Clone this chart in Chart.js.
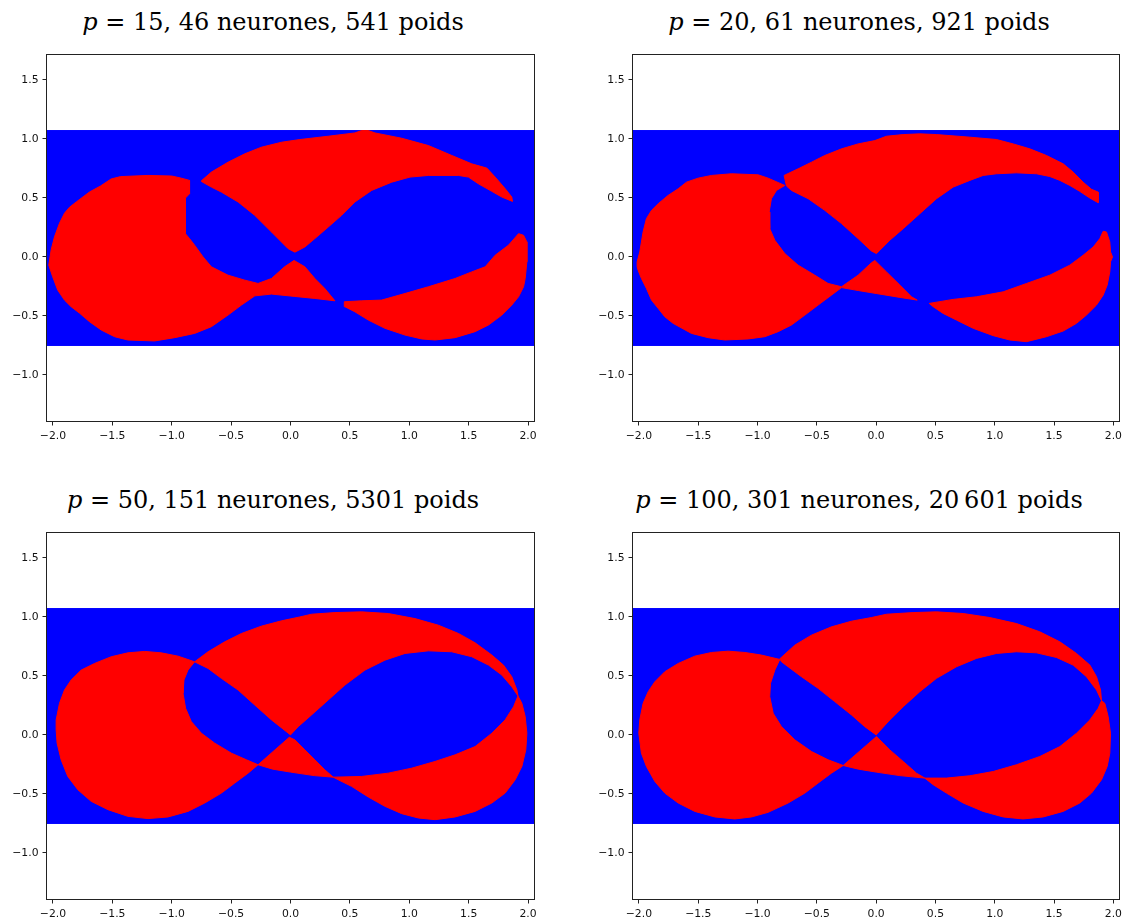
<!DOCTYPE html>
<html lang="fr">
<head>
    <meta charset="UTF-8">
    <title>Classification lemniscate / ellipse</title>
    <script src="https://cdn.jsdelivr.net/npm/chart.js"></script>
    <style>
        html, body { margin: 0; padding: 0; background: #fff; overflow: hidden; }
        #page { position: relative; width: 1126px; height: 921px; }
        canvas { position: absolute; }
        .title {
            position: absolute; width: 600px; text-align: center;
            font-family: 'DejaVu Serif', serif; font-size: 24px; line-height: 24px; color: #000;
            white-space: nowrap;
        }
    </style>
    <script>
        // axes
        const xTicks = [-2, -1.5, -1, -0.5, 0, 0.5, 1, 1.5, 2];
        const yTicks = [-1, -0.5, 0, 0.5, 1, 1.5];
        const xLimits = [-2.05, 2.05];
        const yLimits = [-1.39, 1.71];

        // titles
        const pValues = [15, 20, 50, 100];
        const neurones = [46, 61, 151, 301];
        const poids = ['541', '921', '5301', '20\u2009601'];

        // blue grid of test points
        const gridBox = [[-2.05, -0.75], [2.05, -0.75], [2.05, 1.07], [-2.05, 1.07]];

        // red regions, p = 15
        const p15Lobe = [[-2.035,-0.07],[-2.015,0.06],[-1.987,0.17],[-1.945,0.285],[-1.903,0.37],[-1.861,0.42],[-1.804,0.465],[-1.692,0.55],[-1.6,0.6],[-1.51,0.66],[-1.43,0.68],[-1.2,0.69],[-1.0,0.685],[-0.92,0.667],[-0.85,0.648],[-0.85,0.535],[-0.885,0.498],[-0.885,0.197],[-0.85,0.155],[-0.807,0.099],[-0.736,0.0],[-0.666,-0.084],[-0.526,-0.155],[-0.385,-0.197],[-0.273,-0.225],[-0.16,-0.183],[-0.05,-0.084],[0.03,-0.03],[0.121,-0.084],[0.205,-0.183],[0.289,-0.268],[0.374,-0.372],[0.205,-0.352],[0.037,-0.335],[-0.16,-0.315],[-0.3,-0.33],[-0.413,-0.408],[-0.526,-0.493],[-0.666,-0.591],[-0.807,-0.648],[-0.975,-0.684],[-1.144,-0.712],[-1.369,-0.704],[-1.481,-0.676],[-1.594,-0.619],[-1.692,-0.549],[-1.777,-0.476],[-1.847,-0.422],[-1.903,-0.366],[-1.96,-0.281],[-2.002,-0.169]];
        const p15Band = [[-0.75,0.645],[-0.666,0.718],[-0.526,0.802],[-0.385,0.873],[-0.245,0.929],[-0.076,0.971],[0.079,0.994],[0.318,1.022],[0.542,1.05],[0.599,1.07],[0.655,1.07],[0.711,1.05],[0.936,1.005],[1.161,0.943],[1.358,0.859],[1.526,0.788],[1.653,0.752],[1.723,0.676],[1.808,0.577],[1.863,0.507],[1.869,0.47],[1.779,0.507],[1.695,0.555],[1.582,0.619],[1.498,0.676],[1.414,0.69],[1.161,0.69],[1.006,0.676],[0.852,0.633],[0.683,0.563],[0.542,0.465],[0.43,0.352],[0.318,0.253],[0.205,0.155],[0.121,0.084],[0.037,0.04],[-0.02,0.07],[-0.16,0.211],[-0.301,0.352],[-0.441,0.465],[-0.582,0.549],[-0.666,0.591],[-0.75,0.639]];
        const p15Right = [[0.453,-0.38],[0.599,-0.372],[0.767,-0.366],[0.964,-0.31],[1.161,-0.253],[1.386,-0.183],[1.526,-0.127],[1.639,-0.084],[1.723,0.014],[1.835,0.099],[1.92,0.197],[1.962,0.183],[1.99,0.127],[1.99,-0.042],[1.976,-0.183],[1.962,-0.253],[1.92,-0.338],[1.863,-0.408],[1.779,-0.493],[1.667,-0.577],[1.554,-0.633],[1.386,-0.684],[1.217,-0.704],[1.105,-0.695],[0.964,-0.662],[0.795,-0.605],[0.655,-0.535],[0.542,-0.465],[0.458,-0.422]];

        // red regions, p = 20
        const p20Lobe = [[-2.015,-0.084],[-2.015,-0.042],[-1.993,0.042],[-1.965,0.211],[-1.937,0.324],[-1.894,0.394],[-1.838,0.45],[-1.754,0.521],[-1.669,0.577],[-1.599,0.633],[-1.501,0.667],[-1.388,0.69],[-1.22,0.704],[-0.995,0.695],[-0.911,0.667],[-0.77,0.605],[-0.84,0.563],[-0.883,0.493],[-0.902,0.38],[-0.897,0.239],[-0.854,0.141],[-0.77,0.028],[-0.658,-0.07],[-0.517,-0.155],[-0.405,-0.225],[-0.292,-0.253],[-0.152,-0.155],[-0.04,-0.05],[-0.011,-0.03],[0.087,-0.127],[0.2,-0.239],[0.298,-0.338],[0.346,-0.366],[0.2,-0.343],[0.0,-0.31],[-0.15,-0.285],[-0.292,-0.26],[-0.377,-0.324],[-0.489,-0.408],[-0.601,-0.493],[-0.714,-0.577],[-0.826,-0.633],[-0.939,-0.676],[-1.079,-0.695],[-1.276,-0.704],[-1.417,-0.684],[-1.557,-0.648],[-1.712,-0.563],[-1.782,-0.507],[-1.838,-0.436],[-1.894,-0.366],[-1.937,-0.267],[-1.979,-0.183],[-2.007,-0.113]];
        const p20Band = [[-0.776,0.69],[-0.658,0.746],[-0.545,0.802],[-0.433,0.859],[-0.292,0.915],[-0.152,0.957],[-0.011,0.985],[0.087,1.022],[0.228,1.036],[0.368,1.042],[0.509,1.036],[0.79,1.014],[1.015,0.994],[1.155,0.957],[1.296,0.915],[1.436,0.859],[1.577,0.788],[1.661,0.718],[1.745,0.633],[1.816,0.572],[1.872,0.549],[1.872,0.459],[1.802,0.498],[1.717,0.555],[1.633,0.605],[1.549,0.648],[1.464,0.681],[1.352,0.704],[1.183,0.712],[1.015,0.704],[0.902,0.69],[0.79,0.648],[0.649,0.591],[0.509,0.493],[0.368,0.366],[0.228,0.239],[0.115,0.141],[0.031,0.056],[0.003,0.028],[-0.04,0.05],[-0.152,0.155],[-0.292,0.282],[-0.433,0.394],[-0.573,0.493],[-0.714,0.563],[-0.756,0.6]];
        const p20Right = [[0.447,-0.394],[0.649,-0.36],[0.846,-0.338],[1.071,-0.296],[1.268,-0.225],[1.464,-0.155],[1.633,-0.07],[1.745,0.014],[1.83,0.084],[1.886,0.155],[1.914,0.217],[1.942,0.211],[1.97,0.127],[1.976,0.042],[1.993,0.0],[1.976,-0.042],[1.97,-0.127],[1.948,-0.239],[1.914,-0.324],[1.858,-0.408],[1.773,-0.493],[1.689,-0.563],[1.577,-0.628],[1.436,-0.676],[1.268,-0.718],[1.127,-0.704],[0.987,-0.667],[0.818,-0.605],[0.677,-0.535],[0.565,-0.479],[0.481,-0.422]];

        // red regions, p = 50
        const p50Lobe = [[-1.973,0.042],[-1.973,0.127],[-1.945,0.267],[-1.903,0.38],[-1.847,0.465],[-1.762,0.549],[-1.65,0.605],[-1.509,0.662],[-1.369,0.695],[-1.228,0.707],[-1.088,0.695],[-0.947,0.667],[-0.807,0.619],[-0.863,0.549],[-0.897,0.465],[-0.905,0.352],[-0.883,0.225],[-0.835,0.113],[-0.75,0.014],[-0.638,-0.07],[-0.497,-0.155],[-0.371,-0.211],[-0.273,-0.253],[-0.01,-0.02],[0.037,-0.042],[0.121,-0.127],[0.205,-0.211],[0.289,-0.296],[0.36,-0.358],[0.2,-0.345],[0.0,-0.315],[-0.15,-0.29],[-0.273,-0.253],[-0.357,-0.324],[-0.469,-0.408],[-0.582,-0.493],[-0.722,-0.577],[-0.863,-0.648],[-1.031,-0.695],[-1.2,-0.709],[-1.369,-0.69],[-1.537,-0.633],[-1.678,-0.563],[-1.79,-0.465],[-1.875,-0.352],[-1.931,-0.211],[-1.965,-0.07]];
        const p50Band = [[-0.807,0.619],[-0.694,0.704],[-0.554,0.788],[-0.413,0.859],[-0.245,0.921],[-0.076,0.966],[0.079,0.999],[0.177,1.022],[0.374,1.036],[0.599,1.042],[0.823,1.028],[1.048,0.985],[1.245,0.929],[1.414,0.859],[1.554,0.78],[1.695,0.676],[1.793,0.591],[1.863,0.493],[1.906,0.38],[1.915,0.33],[1.863,0.408],[1.779,0.507],[1.667,0.591],[1.526,0.662],[1.358,0.704],[1.161,0.712],[0.964,0.69],[0.795,0.633],[0.627,0.549],[0.458,0.422],[0.318,0.296],[0.177,0.169],[0.065,0.07],[0.0,0.0],[-0.16,0.127],[-0.301,0.253],[-0.441,0.38],[-0.582,0.479],[-0.694,0.563],[-0.779,0.605]];
        const p50Right = [[0.36,-0.358],[0.599,-0.352],[0.823,-0.324],[1.02,-0.282],[1.217,-0.225],[1.386,-0.169],[1.554,-0.099],[1.695,0.014],[1.807,0.127],[1.878,0.239],[1.915,0.33],[1.948,0.267],[1.976,0.155],[1.99,0.014],[1.981,-0.127],[1.948,-0.267],[1.892,-0.38],[1.807,-0.493],[1.695,-0.577],[1.554,-0.648],[1.386,-0.695],[1.217,-0.718],[1.077,-0.704],[0.936,-0.667],[0.795,-0.605],[0.655,-0.526],[0.514,-0.436],[0.402,-0.38]];

        // red regions, p = 100
        const p100Lobe = [[-2.001,0.014],[-1.993,0.127],[-1.965,0.267],[-1.922,0.366],[-1.866,0.45],[-1.782,0.535],[-1.669,0.605],[-1.529,0.667],[-1.388,0.698],[-1.248,0.709],[-1.107,0.698],[-0.967,0.676],[-0.812,0.639],[-0.854,0.549],[-0.891,0.436],[-0.897,0.324],[-0.868,0.183],[-0.798,0.07],[-0.686,-0.042],[-0.545,-0.141],[-0.405,-0.211],[-0.278,-0.259],[0.003,-0.014],[0.115,-0.127],[0.228,-0.225],[0.34,-0.324],[0.41,-0.366],[0.2,-0.345],[0.0,-0.315],[-0.15,-0.29],[-0.278,-0.259],[-0.377,-0.324],[-0.489,-0.408],[-0.601,-0.493],[-0.742,-0.577],[-0.911,-0.656],[-1.051,-0.695],[-1.192,-0.712],[-1.36,-0.695],[-1.529,-0.648],[-1.669,-0.577],[-1.782,-0.493],[-1.866,-0.394],[-1.937,-0.267],[-1.979,-0.155]];
        const p100Band = [[-0.812,0.645],[-0.686,0.76],[-0.545,0.845],[-0.377,0.915],[-0.208,0.963],[-0.039,0.994],[0.087,1.022],[0.312,1.036],[0.509,1.042],[0.734,1.028],[0.958,0.994],[1.183,0.943],[1.38,0.873],[1.549,0.788],[1.689,0.69],[1.802,0.591],[1.858,0.493],[1.892,0.38],[1.9,0.29],[1.858,0.38],[1.773,0.493],[1.661,0.591],[1.52,0.656],[1.352,0.695],[1.183,0.704],[1.015,0.69],[0.846,0.648],[0.677,0.577],[0.509,0.479],[0.368,0.366],[0.228,0.239],[0.115,0.127],[0.0,0.0],[-0.096,0.07],[-0.208,0.169],[-0.349,0.282],[-0.489,0.394],[-0.63,0.493],[-0.742,0.577],[-0.798,0.619]];
        const p100Right = [[0.41,-0.366],[0.593,-0.366],[0.79,-0.346],[0.987,-0.31],[1.183,-0.253],[1.38,-0.183],[1.549,-0.099],[1.689,0.014],[1.802,0.127],[1.872,0.225],[1.9,0.29],[1.928,0.267],[1.956,0.155],[1.976,0.014],[1.97,-0.155],[1.948,-0.267],[1.9,-0.38],[1.816,-0.493],[1.717,-0.577],[1.577,-0.648],[1.408,-0.695],[1.239,-0.712],[1.071,-0.695],[0.902,-0.648],[0.734,-0.577],[0.593,-0.493],[0.481,-0.422]];
    </script>
</head>
<body>
<div id="page">
    <div class="title" id="t0" style="left:-27px; top:10px;"></div>
    <div class="title" id="t1" style="left:559px; top:10px;"></div>
    <div class="title" id="t2" style="left:-27px; top:488px;"></div>
    <div class="title" id="t3" style="left:559px; top:488px;"></div>

    <canvas id="c0" width="546" height="420" style="left:0; top:40px;"></canvas>
    <canvas id="c1" width="540" height="420" style="left:586px; top:40px;"></canvas>
    <canvas id="c2" width="546" height="420" style="left:0; top:518px;"></canvas>
    <canvas id="c3" width="540" height="420" style="left:586px; top:518px;"></canvas>
</div>
<script>
    const RED = '#ff0000';
    const BLUE = '#0000ff';

    function fmt(v) {
        return (v < 0 ? '\u2212' : '') + Math.abs(v).toFixed(1);
    }

    function polygon(points, color, order) {
        const data = points.map(([x, y]) => ({x, y}));
        data.push(data[0]);
        return {
            data: data,
            borderColor: color,
            backgroundColor: color,
            borderWidth: 1,
            pointRadius: 0,
            tension: 0,
            fill: 'shape',
            order: order
        };
    }

    // the four sides of the axes box
    const frame = {
        id: 'frame',
        afterDraw(chart) {
            const {ctx, chartArea: a} = chart;
            ctx.save();
            ctx.strokeStyle = '#222';
            ctx.lineWidth = 1;
            ctx.strokeRect(Math.round(a.left) - 0.5, Math.round(a.top) - 0.5,
                Math.round(a.right - a.left) + 1, Math.round(a.bottom - a.top) + 1);
            ctx.restore();
        }
    };

    const tickFont = {family: 'DejaVu Sans', size: 10.8};

    function makeChart(id, shapes, rightPad) {
        const datasets = [polygon(gridBox, BLUE, 10)];
        shapes.forEach(s => datasets.push(polygon(s, RED, 1)));

        return new Chart(document.getElementById(id), {
            type: 'line',
            data: {datasets: datasets},
            plugins: [frame],
            options: {
                responsive: false,
                devicePixelRatio: 1,
                animation: false,
                events: [],
                layout: {padding: {left: 0, top: 15, right: rightPad, bottom: 0}},
                plugins: {legend: {display: false}, tooltip: {enabled: false}},
                scales: {
                    x: {
                        type: 'linear',
                        min: xLimits[0],
                        max: xLimits[1],
                        afterBuildTicks: s => { s.ticks = xTicks.map(v => ({value: v})); },
                        afterFit: s => { s.height = 39; s.paddingLeft = 0; s.paddingRight = 0; },
                        ticks: {callback: v => fmt(v), font: tickFont, color: '#111',
                            padding: 4, maxRotation: 0, autoSkip: false},
                        grid: {drawOnChartArea: false, tickLength: 4.5, tickColor: '#222'},
                        border: {display: false}
                    },
                    y: {
                        type: 'linear',
                        min: yLimits[0],
                        max: yLimits[1],
                        afterBuildTicks: s => { s.ticks = yTicks.map(v => ({value: v})); },
                        afterFit: s => { s.width = 47; s.paddingTop = 0; s.paddingBottom = 0; },
                        ticks: {callback: v => fmt(v), font: tickFont, color: '#111',
                            padding: 4, autoSkip: false},
                        grid: {drawOnChartArea: false, tickLength: 4.5, tickColor: '#222'},
                        border: {display: false}
                    }
                }
            }
        });
    }

    for (let i = 0; i < 4; i++) {
        document.getElementById('t' + i).innerHTML =
            '<i>p</i> = ' + pValues[i] + ', ' + neurones[i] + ' neurones, ' + poids[i] + ' poids';
    }

    makeChart('c0', [p15Lobe, p15Band, p15Right], 12);
    makeChart('c1', [p20Lobe, p20Band, p20Right], 6.7);
    makeChart('c2', [p50Lobe, p50Band, p50Right], 12);
    makeChart('c3', [p100Lobe, p100Band, p100Right], 6.7);
</script>
</body>
</html>
